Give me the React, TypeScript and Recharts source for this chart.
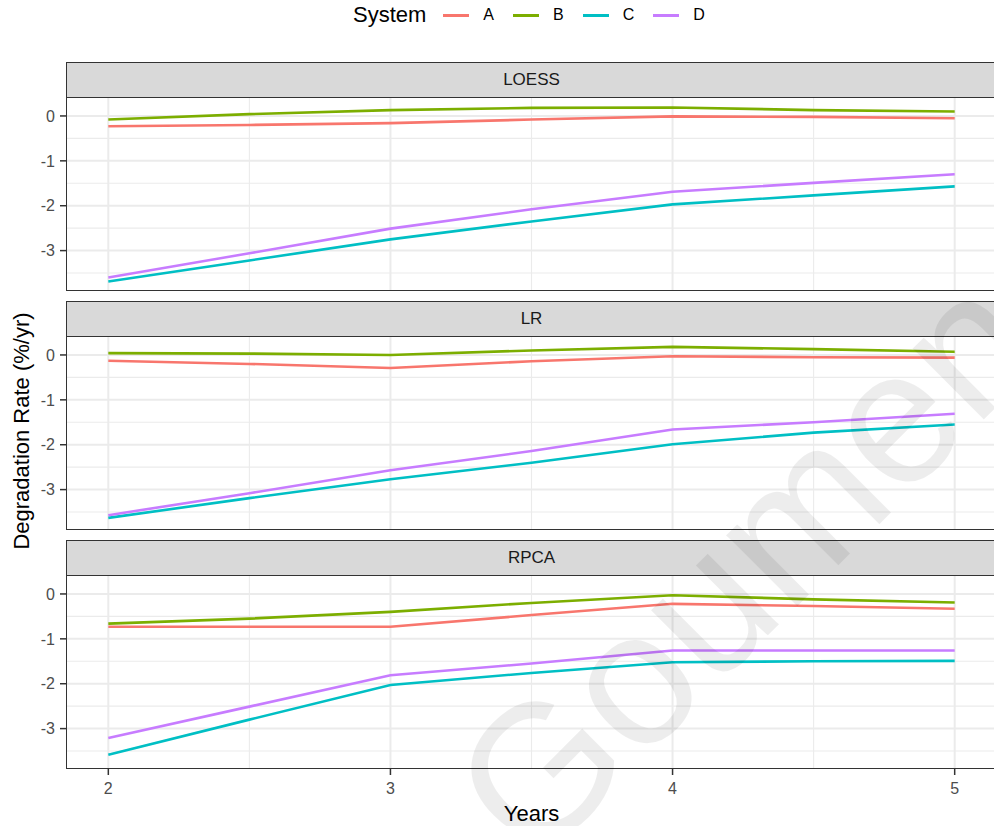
import { LineChart, Line, XAxis, YAxis, CartesianGrid } from 'recharts';

const years = [2, 2.5, 3, 3.5, 4, 4.5, 5];
const systems = ['A', 'B', 'C', 'D'];
const systemColors = ['#F8766D', '#7CAE00', '#00BFC4', '#C77CFF'];
const yTicks = [-3, -2, -1, 0];
const xTicks = [2, 3, 4, 5];

// LOESS
const loessA = [-0.23, -0.2, -0.16, -0.08, -0.01, -0.02, -0.05];
const loessB = [-0.08, 0.04, 0.13, 0.18, 0.19, 0.13, 0.1];
const loessC = [-3.69, -3.22, -2.75, -2.35, -1.97, -1.77, -1.57];
const loessD = [-3.6, -3.06, -2.51, -2.08, -1.69, -1.49, -1.3];

// LR
const lrA = [-0.13, -0.2, -0.29, -0.14, -0.03, -0.05, -0.06];
const lrB = [0.04, 0.03, 0.0, 0.1, 0.18, 0.13, 0.07];
const lrC = [-3.63, -3.19, -2.77, -2.4, -1.99, -1.73, -1.55];
const lrD = [-3.57, -3.08, -2.57, -2.14, -1.66, -1.5, -1.31];

// RPCA
const rpcaA = [-0.73, -0.73, -0.73, -0.47, -0.22, -0.27, -0.33];
const rpcaB = [-0.66, -0.55, -0.4, -0.2, -0.03, -0.12, -0.19];
const rpcaC = [-3.58, -2.8, -2.03, -1.76, -1.52, -1.5, -1.49];
const rpcaD = [-3.21, -2.51, -1.81, -1.55, -1.26, -1.26, -1.26];

const toRows = (a: number[], b: number[], c: number[], d: number[]) =>
  years.map((year, i) => ({ year, A: a[i], B: b[i], C: c[i], D: d[i] }));

const facets = [
  { name: 'LOESS', rows: toRows(loessA, loessB, loessC, loessD), stripTop: 62 },
  { name: 'LR', rows: toRows(lrA, lrB, lrC, lrD), stripTop: 301 },
  { name: 'RPCA', rows: toRows(rpcaA, rpcaB, rpcaC, rpcaD), stripTop: 540 },
];

const FONT = '"Liberation Sans", Arial, sans-serif';
const STRIP_H = 36;
const PLOT_H = 193;
const PLOT_LEFT = 66;
const CHART_W = 997;
const AXIS_H = 34;

function Facet({ name, rows, stripTop, last }: { name: string; rows: any[]; stripTop: number; last: boolean }) {
  const plotTop = stripTop + STRIP_H;
  return (
    <>
      <div
        style={{
          position: 'absolute',
          left: PLOT_LEFT,
          top: stripTop,
          width: CHART_W - PLOT_LEFT,
          height: STRIP_H,
          boxSizing: 'border-box',
          background: '#D9D9D9',
          border: '1.6px solid #333333',
          color: '#1A1A1A',
          fontSize: 17,
          display: 'flex',
          alignItems: 'center',
          justifyContent: 'center',
        }}
      >
        {name}
      </div>
      <div style={{ position: 'absolute', left: 0, top: plotTop }}>
        <LineChart
          width={CHART_W}
          height={PLOT_H + (last ? AXIS_H : 0)}
          data={rows}
          margin={{ top: 0, right: 0, bottom: 0, left: 0 }}
        >
          <CartesianGrid
            stroke="#EBEBEB"
            strokeWidth={1.1}
            horizontalValues={[-3.5, -2.5, -1.5, -0.5]}
            verticalValues={[2.5, 3.5, 4.5]}
          />
          <CartesianGrid stroke="#EBEBEB" strokeWidth={2} horizontalValues={yTicks} verticalValues={xTicks} />
          <XAxis
            type="number"
            dataKey="year"
            domain={[1.85, 5.15]}
            ticks={xTicks}
            allowDataOverflow
            hide={!last}
            height={AXIS_H}
            axisLine={false}
            tickLine={{ stroke: '#333333', strokeWidth: 1.5 }}
            tickSize={6}
            tickMargin={8}
            tick={{ fill: '#4D4D4D', fontSize: 16, fontFamily: FONT }}
          />
          <YAxis
            type="number"
            domain={[-3.9, 0.4]}
            ticks={yTicks}
            allowDataOverflow
            width={PLOT_LEFT}
            axisLine={false}
            tickLine={{ stroke: '#333333', strokeWidth: 1.5 }}
            tickSize={6}
            tickMargin={5}
            tick={{ fill: '#4D4D4D', fontSize: 16, fontFamily: FONT }}
          />
          {systems.map((s, i) => (
            <Line
              key={s}
              type="linear"
              dataKey={s}
              stroke={systemColors[i]}
              strokeWidth={2.6}
              dot={false}
              isAnimationActive={false}
            />
          ))}
        </LineChart>
      </div>
      <div
        style={{
          position: 'absolute',
          left: PLOT_LEFT,
          top: plotTop - 1,
          width: CHART_W - PLOT_LEFT,
          height: PLOT_H + 1,
          boxSizing: 'border-box',
          border: '1.6px solid #333333',
          pointerEvents: 'none',
        }}
      />
    </>
  );
}

export default function App() {
  return (
    <div
      style={{
        position: 'absolute',
        left: 0,
        top: 0,
        width: 994,
        height: 826,
        overflow: 'hidden',
        background: '#FFFFFF',
        fontFamily: FONT,
      }}
    >
      <div
        style={{
          position: 'absolute',
          top: 2,
          left: 353,
          display: 'flex',
          alignItems: 'center',
          height: 26,
        }}
      >
        <span style={{ fontSize: 22, color: '#000', marginRight: 17 }}>System</span>
        {systems.map((s, i) => (
          <span key={s} style={{ display: 'flex', alignItems: 'center' }}>
            <span style={{ width: 26, height: 3, background: systemColors[i], display: 'inline-block' }} />
            <span style={{ fontSize: 16, color: '#000', marginLeft: 14, marginRight: 19 }}>{s}</span>
          </span>
        ))}
      </div>

      {facets.map((f, i) => (
        <Facet key={f.name} name={f.name} rows={f.rows} stripTop={f.stripTop} last={i === facets.length - 1} />
      ))}

      <div
        style={{
          position: 'absolute',
          left: 0,
          top: 801,
          width: CHART_W,
          paddingLeft: PLOT_LEFT,
          boxSizing: 'border-box',
          textAlign: 'center',
          fontSize: 22,
          color: '#000',
        }}
      >
        Years
      </div>
      <div
        style={{
          position: 'absolute',
          left: 22,
          top: 431,
          transform: 'translate(-50%, -50%) rotate(-90deg)',
          whiteSpace: 'nowrap',
          fontSize: 22,
          color: '#000',
        }}
      >
        Degradation Rate (%/yr)
      </div>
      <div
        style={{
          position: 'absolute',
          left: 745,
          top: 565,
          transform: 'translate(-50%, -50%) rotate(-45deg)',
          whiteSpace: 'nowrap',
          fontSize: 190,
          color: 'rgba(0,0,0,0.07)',
          pointerEvents: 'none',
        }}
      >
        Goumen
      </div>
    </div>
  );
}
